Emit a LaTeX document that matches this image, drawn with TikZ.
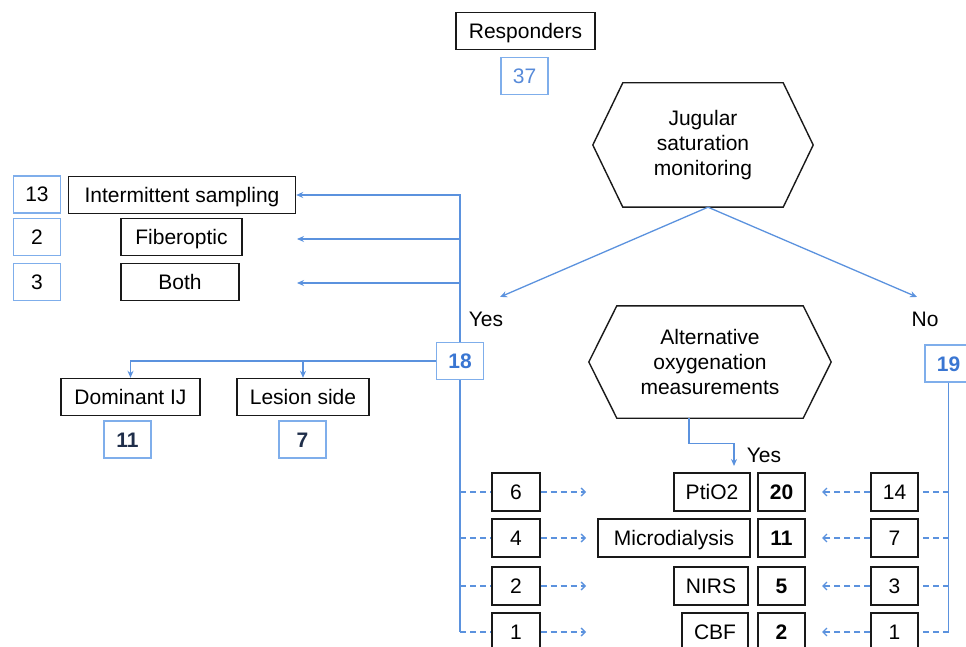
\documentclass[tikz,border=0pt]{standalone}
\usepackage{fontspec}
\setmainfont{Liberation Sans}
\usetikzlibrary{arrows.meta}
\definecolor{lineblue}{HTML}{5B92DE}
\definecolor{boxblue}{HTML}{7FAEEB}
\definecolor{numblue}{HTML}{3A76D2}
\definecolor{navy}{HTML}{1F2E4A}
\newcommand{\fsz}{\fontsize{21}{25}\selectfont}
\begin{document}
\begin{tikzpicture}[x=1pt,y=-1pt,
  every node/.style={font=\fsz, inner sep=0pt},
  one/.style={text height=15pt, text depth=0pt},
  bbox/.style={one, draw=black!90, line width=1.4pt, minimum height=37pt},
  qbox/.style={one, draw=boxblue, line width=1.3pt, minimum height=37pt, minimum width=47pt},
  bl/.style={draw=lineblue, line width=1.3pt},
  arr/.style={-{Stealth[length=7pt,width=6pt]}},
  darr/.style={dash pattern=on 6pt off 4pt, -{Straight Barb[length=4pt,width=8pt]}},
  dl/.style={dash pattern=on 6pt off 4pt}
]
\useasboundingbox (0,0) rectangle (966,647);
\clip (0,0) rectangle (966,647);

% top
\node[bbox, minimum width=139pt] (resp) at (525.5,31) {Responders};
\node[qbox, text=numblue!85] (n37) at (524.5,76) {37};

% jugular hexagon
\node[minimum width=160pt, minimum height=124pt, align=center] (jug) at (703,145) {Jugular\\saturation\\monitoring};
\draw[black!90, line width=1.4pt] (jug.north west) -- (jug.north east) -- ([xshift=30pt]jug.east) -- (jug.south east) -- (jug.south west) -- ([xshift=-30pt]jug.west) -- cycle;

\coordinate (yt) at (500,297);
\coordinate (nt) at (917,297);
\draw[bl,arr] ([xshift=5pt]jug.south) -- (yt);
\draw[bl,arr] ([xshift=5pt]jug.south) -- (nt);
\node[one] (lyes) at (486,319) {Yes};
\node[one] (lno) at (925,319) {No};

\node[qbox, text=numblue, font=\fsz\bfseries] (n18) at (460,361) {18};
\node[qbox, text=numblue, font=\fsz\bfseries] (n19) at (948.5,363.5) {19};

% left types
\node[bbox, minimum width=227pt] (inter) at (182,195) {Intermittent sampling};
\node[bbox, minimum width=121pt] (fib) at (181.5,237) {Fiberoptic};
\node[bbox, minimum width=118pt] (both) at (180,282) {Both};
\node[qbox] (n13) at (37,194.5) {13};
\node[qbox] (n2) at (37,237) {2};
\node[qbox] (n3) at (37,282) {3};

\coordinate (fa) at (297,239);
\coordinate (ba) at (297,283);
\draw[bl,arr] (n18.north) |- (inter.east);
\draw[bl,arr] (n18.north |- fa) -- (fa);
\draw[bl,arr] (n18.north |- ba) -- (ba);

% side
\node[bbox, minimum width=139pt] (dom) at (130.5,397) {Dominant IJ};
\node[bbox, minimum width=132pt] (les) at (303,397) {Lesion side};
\node[qbox, text=navy, font=\fsz\bfseries] (n11) at (127.5,439.5) {11};
\node[qbox, text=navy, font=\fsz\bfseries] (n7) at (302.5,439.5) {7};
\draw[bl,arr] (n18.west) -| (dom.north);
\draw[bl,arr] (les.north |- n18.west) -- (les.north);

% alternative hexagon
\node[minimum width=186pt, minimum height=112pt, align=center] (alt) at (710,362) {Alternative\\oxygenation\\measurements};
\draw[black!90, line width=1.4pt] (alt.north west) -- (alt.north east) -- ([xshift=28pt]alt.east) -- (alt.south east) -- (alt.south west) -- ([xshift=-28pt]alt.west) -- cycle;
\coordinate (yesa) at (734,466);
\draw[bl,arr] ([xshift=-21pt]alt.south) -- ++(0,25) -| (yesa);
\node[one] (lyes2) at (764,455) {Yes};

% rows
\foreach \i/\y/\l/\m/\mw/\mx/\c/\r in {1/492/6/PtiO2/76/712/20/14, 2/538/4/Microdialysis/152/674/11/7, 3/586/2/NIRS/74/711/5/3, 4/632/1/CBF/66/715/2/1}{
  \node[bbox, minimum width=48pt, minimum height=38pt] (l\i) at (516,\y) {\l};
  \node[bbox, minimum width=\mw pt, minimum height=38pt] (m\i) at (\mx,\y) {\m};
  \node[bbox, minimum width=47pt, minimum height=38pt, font=\fsz\bfseries] (c\i) at (781.5,\y) {\c};
  \node[bbox, minimum width=47pt, minimum height=38pt] (r\i) at (894.5,\y) {\r};
  \coordinate (la\i) at (586,\y);
  \coordinate (ra\i) at (822,\y);
  \draw[bl,dl] (n18.south |- l\i.west) -- (l\i.west);
  \draw[bl,darr] (l\i.east) -- (la\i);
  \draw[bl,dl] (n19.south |- r\i.east) -- (r\i.east);
  \draw[bl,darr] (r\i.west) -- (ra\i);
}
\draw[bl] (n18.south) -- (n18.south |- l4.west);
\draw[bl] (n19.south) -- (n19.south |- r4.east);
\end{tikzpicture}
\end{document}
